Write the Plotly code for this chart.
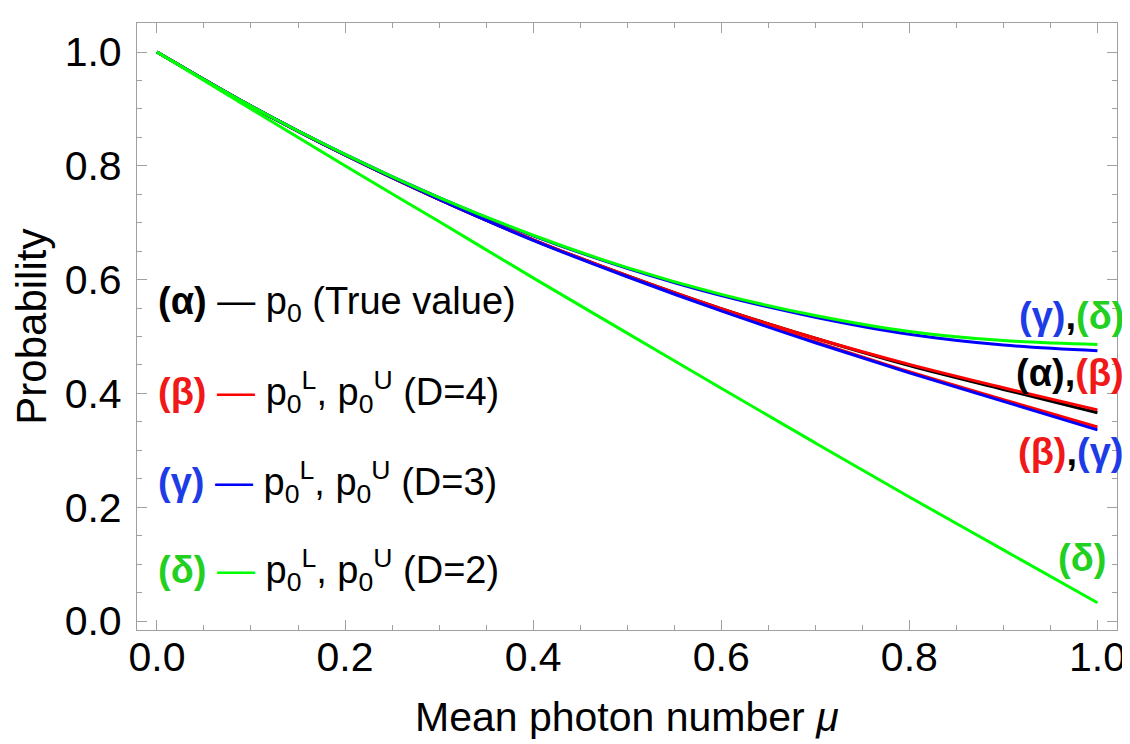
"""Probabilité p0 et bornes p0^L, p0^U (D = 2, 3, 4) en fonction de mu."""

import plotly.graph_objects as go

# Valeurs (pas de 0.1 en mu)
mu = [0.0, 0.1, 0.2, 0.3, 0.4, 0.5, 0.6, 0.7, 0.8, 0.9, 1.0]

p0_vrai = [1.000, 0.905, 0.819, 0.741, 0.670, 0.607, 0.549, 0.497, 0.449, 0.407, 0.366]

d4_haut = [1.000, 0.905, 0.819, 0.741, 0.670, 0.607, 0.549, 0.497, 0.451, 0.410, 0.371]
d4_bas = [1.000, 0.905, 0.819, 0.741, 0.670, 0.606, 0.546, 0.491, 0.438, 0.389, 0.341]

d3_haut = [1.000, 0.905, 0.820, 0.744, 0.677, 0.620, 0.572, 0.534, 0.504, 0.485, 0.475]
d3_bas = [1.000, 0.905, 0.819, 0.741, 0.669, 0.605, 0.545, 0.489, 0.436, 0.386, 0.336]

d2_haut = [1.000, 0.905, 0.820, 0.744, 0.678, 0.621, 0.574, 0.537, 0.509, 0.493, 0.486]
d2_bas = [1.000, 0.900, 0.800, 0.702, 0.603, 0.506, 0.409, 0.313, 0.218, 0.125, 0.032]

NOIR, ROUGE, BLEU, VERT = "#000000", "#ff0000", "#0000ff", "#00ff00"
T_ROUGE, T_BLEU, T_VERT = "#f01818", "#1e3ce6", "#22d022"
POLICE = "Liberation Sans, Arial, sans-serif"
GRIS = "#a0a0a0"

fig = go.Figure()

courbes = [
    (p0_vrai, NOIR), (d4_haut, ROUGE), (d4_bas, ROUGE),
    (d3_haut, BLEU), (d3_bas, BLEU), (d2_haut, VERT), (d2_bas, VERT),
]
for ys, couleur in courbes:
    fig.add_trace(go.Scatter(
        x=mu, y=ys, mode="lines",
        line=dict(color=couleur, width=3, shape="spline"),
        showlegend=False, hoverinfo="skip",
    ))

# Légende écrite dans le cadre
lignes = [
    (0.558, f"<b>(α)</b> — p<sub>0</sub> (True value)"),
    (0.402, f"<b><span style='color:{T_ROUGE}'>(β)</span></b> <span style='color:{ROUGE}'>—</span> "
            "p<sub>0</sub><sup>L</sup>, p<sub>0</sub><sup>U</sup> (D=4)"),
    (0.245, f"<b><span style='color:{T_BLEU}'>(γ)</span></b> <span style='color:{BLEU}'>—</span> "
            "p<sub>0</sub><sup>L</sup>, p<sub>0</sub><sup>U</sup> (D=3)"),
    (0.090, f"<b><span style='color:{T_VERT}'>(δ)</span></b> <span style='color:{VERT}'>—</span> "
            "p<sub>0</sub><sup>L</sup>, p<sub>0</sub><sup>U</sup> (D=2)"),
]
for y, texte in lignes:
    fig.add_annotation(x=0.019, y=y, xref="paper", yref="y", text=texte,
                       showarrow=False, xanchor="left", yanchor="middle",
                       font=dict(family=POLICE, size=38, color=NOIR))

# Étiquettes en bout de courbes (x en coordonnées papier : elles débordent du cadre)
bouts = [
    (1.009, 0.536, f"<b><span style='color:{T_BLEU}'>(γ)</span>,<span style='color:{T_VERT}'>(δ)</span></b>"),
    (1.009, 0.436, f"<b>(α),<span style='color:{T_ROUGE}'>(β)</span></b>"),
    (1.009, 0.297, f"<b><span style='color:{T_ROUGE}'>(β)</span>,<span style='color:{T_BLEU}'>(γ)</span></b>"),
    (0.991, 0.111, f"<b><span style='color:{T_VERT}'>(δ)</span></b>"),
]
for x, y, texte in bouts:
    fig.add_annotation(x=x, y=y, xref="paper", yref="y", text=texte,
                       showarrow=False, xanchor="right", yanchor="middle",
                       font=dict(family=POLICE, size=38, color=NOIR))

# Titres des axes
fig.add_annotation(x=0.5, y=-0.143, xref="paper", yref="paper",
                   text="Mean photon number <i>μ</i>", showarrow=False,
                   xanchor="center", yanchor="middle",
                   font=dict(family=POLICE, size=41, color=NOIR))
fig.add_annotation(x=-0.108, y=0.5, xref="paper", yref="paper",
                   text="Probability", showarrow=False, textangle=-90,
                   xanchor="center", yanchor="middle",
                   font=dict(family=POLICE, size=42, color=NOIR))

axe = dict(
    showline=True, linecolor=GRIS, linewidth=1.3, mirror="ticks",
    ticks="inside", ticklen=10, tickcolor=GRIS, tickwidth=1.3,
    showgrid=False, zeroline=False, dtick=0.2, tick0=0, tickformat=".1f",
    tickfont=dict(family=POLICE, size=41, color=NOIR),
    minor=dict(ticks="inside", ticklen=5, tickcolor=GRIS, dtick=0.05,
               showgrid=False),
)
fig.update_layout(
    width=1130, height=744,
    margin=dict(l=129, r=16, t=15, b=122),
    paper_bgcolor="white", plot_bgcolor="white",
    xaxis=dict(axe, range=[-0.0212, 1.0208], ticklabelstandoff=-9),
    yaxis=dict(axe, range=[-0.0158, 1.051], ticklabelstandoff=6),
    showlegend=False,
)

fig.write_html("out.html")
